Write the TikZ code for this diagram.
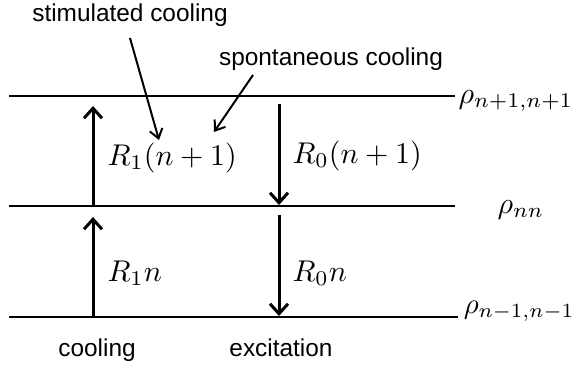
\documentclass[tikz,border=0pt]{standalone}
\usepackage{fontspec}
\setmainfont{Liberation Sans}
\usetikzlibrary{arrows.meta}
\begin{document}
\begin{tikzpicture}[x=1pt,y=-1pt,
  level/.style={line width=2.2pt},
  rate/.style={line width=3pt,-{Straight Barb[length=10pt,width=18pt]}},
  note/.style={line width=2pt,-{Straight Barb[length=9pt,width=13pt]}},
  lbl/.style={font=\fontsize{24.4}{29}\selectfont, inner sep=0pt, anchor=base},
  mth/.style={scale=3, inner sep=0pt, anchor=base west}]
\useasboundingbox (0,0) rectangle (576,365);
% levels
\coordinate (tl) at (9,96);   \coordinate (tr) at (455,96);
\coordinate (ml) at (9,206);  \coordinate (mr) at (455,206);
\coordinate (bl) at (9,317);  \coordinate (br) at (458,317);
\draw[level] (tl) -- (tr);
\draw[level] (ml) -- (mr);
\draw[level] (bl) -- (br);
% level labels
\node[mth] (rtop) at (458,103) {$\rho_{n+1,n+1}$};
\node[mth] (rmid) at (497,213) {$\rho_{nn}$};
\node[mth, scale=0.96, anchor=base east] (rbot) at (575,313) {$\rho_{n-1,n-1}$};
% rate arrows
\coordinate (u1s) at (93,317); \coordinate (u1e) at (93,217);
\coordinate (u2s) at (93,206); \coordinate (u2e) at (93,106);
\coordinate (d1s) at (279,104); \coordinate (d1e) at (279,205);
\coordinate (d2s) at (279,215); \coordinate (d2e) at (279,316);
\draw[rate] (u1s) -- (u1e);
\draw[rate] (u2s) -- (u2e);
\draw[rate] (d1s) -- (d1e);
\draw[rate] (d2s) -- (d2e);
% rate labels
\node[mth] (r1a) at (107,165) {$R_1(n+1)$};
\node[mth] (r0a) at (292,163) {$R_0(n+1)$};
\node[mth] (r1b) at (107,281) {$R_1n$};
\node[mth] (r0b) at (292,281) {$R_0n$};
% text labels
\node[lbl] (stim) at (130,21) {stimulated cooling};
\node[lbl] (spon) at (331,65) {spontaneous cooling};
\node[lbl] (cool) at (97,356) {cooling};
\node[lbl] (exci) at (281,356) {excitation};
% annotation arrows
\coordinate (s1) at (130,38);  \coordinate (s2) at (159,140);
\coordinate (p1) at (253,75);  \coordinate (p2) at (214,132);
\draw[note] (s1) -- (s2);
\draw[note] (p1) -- (p2);
\end{tikzpicture}
\end{document}
